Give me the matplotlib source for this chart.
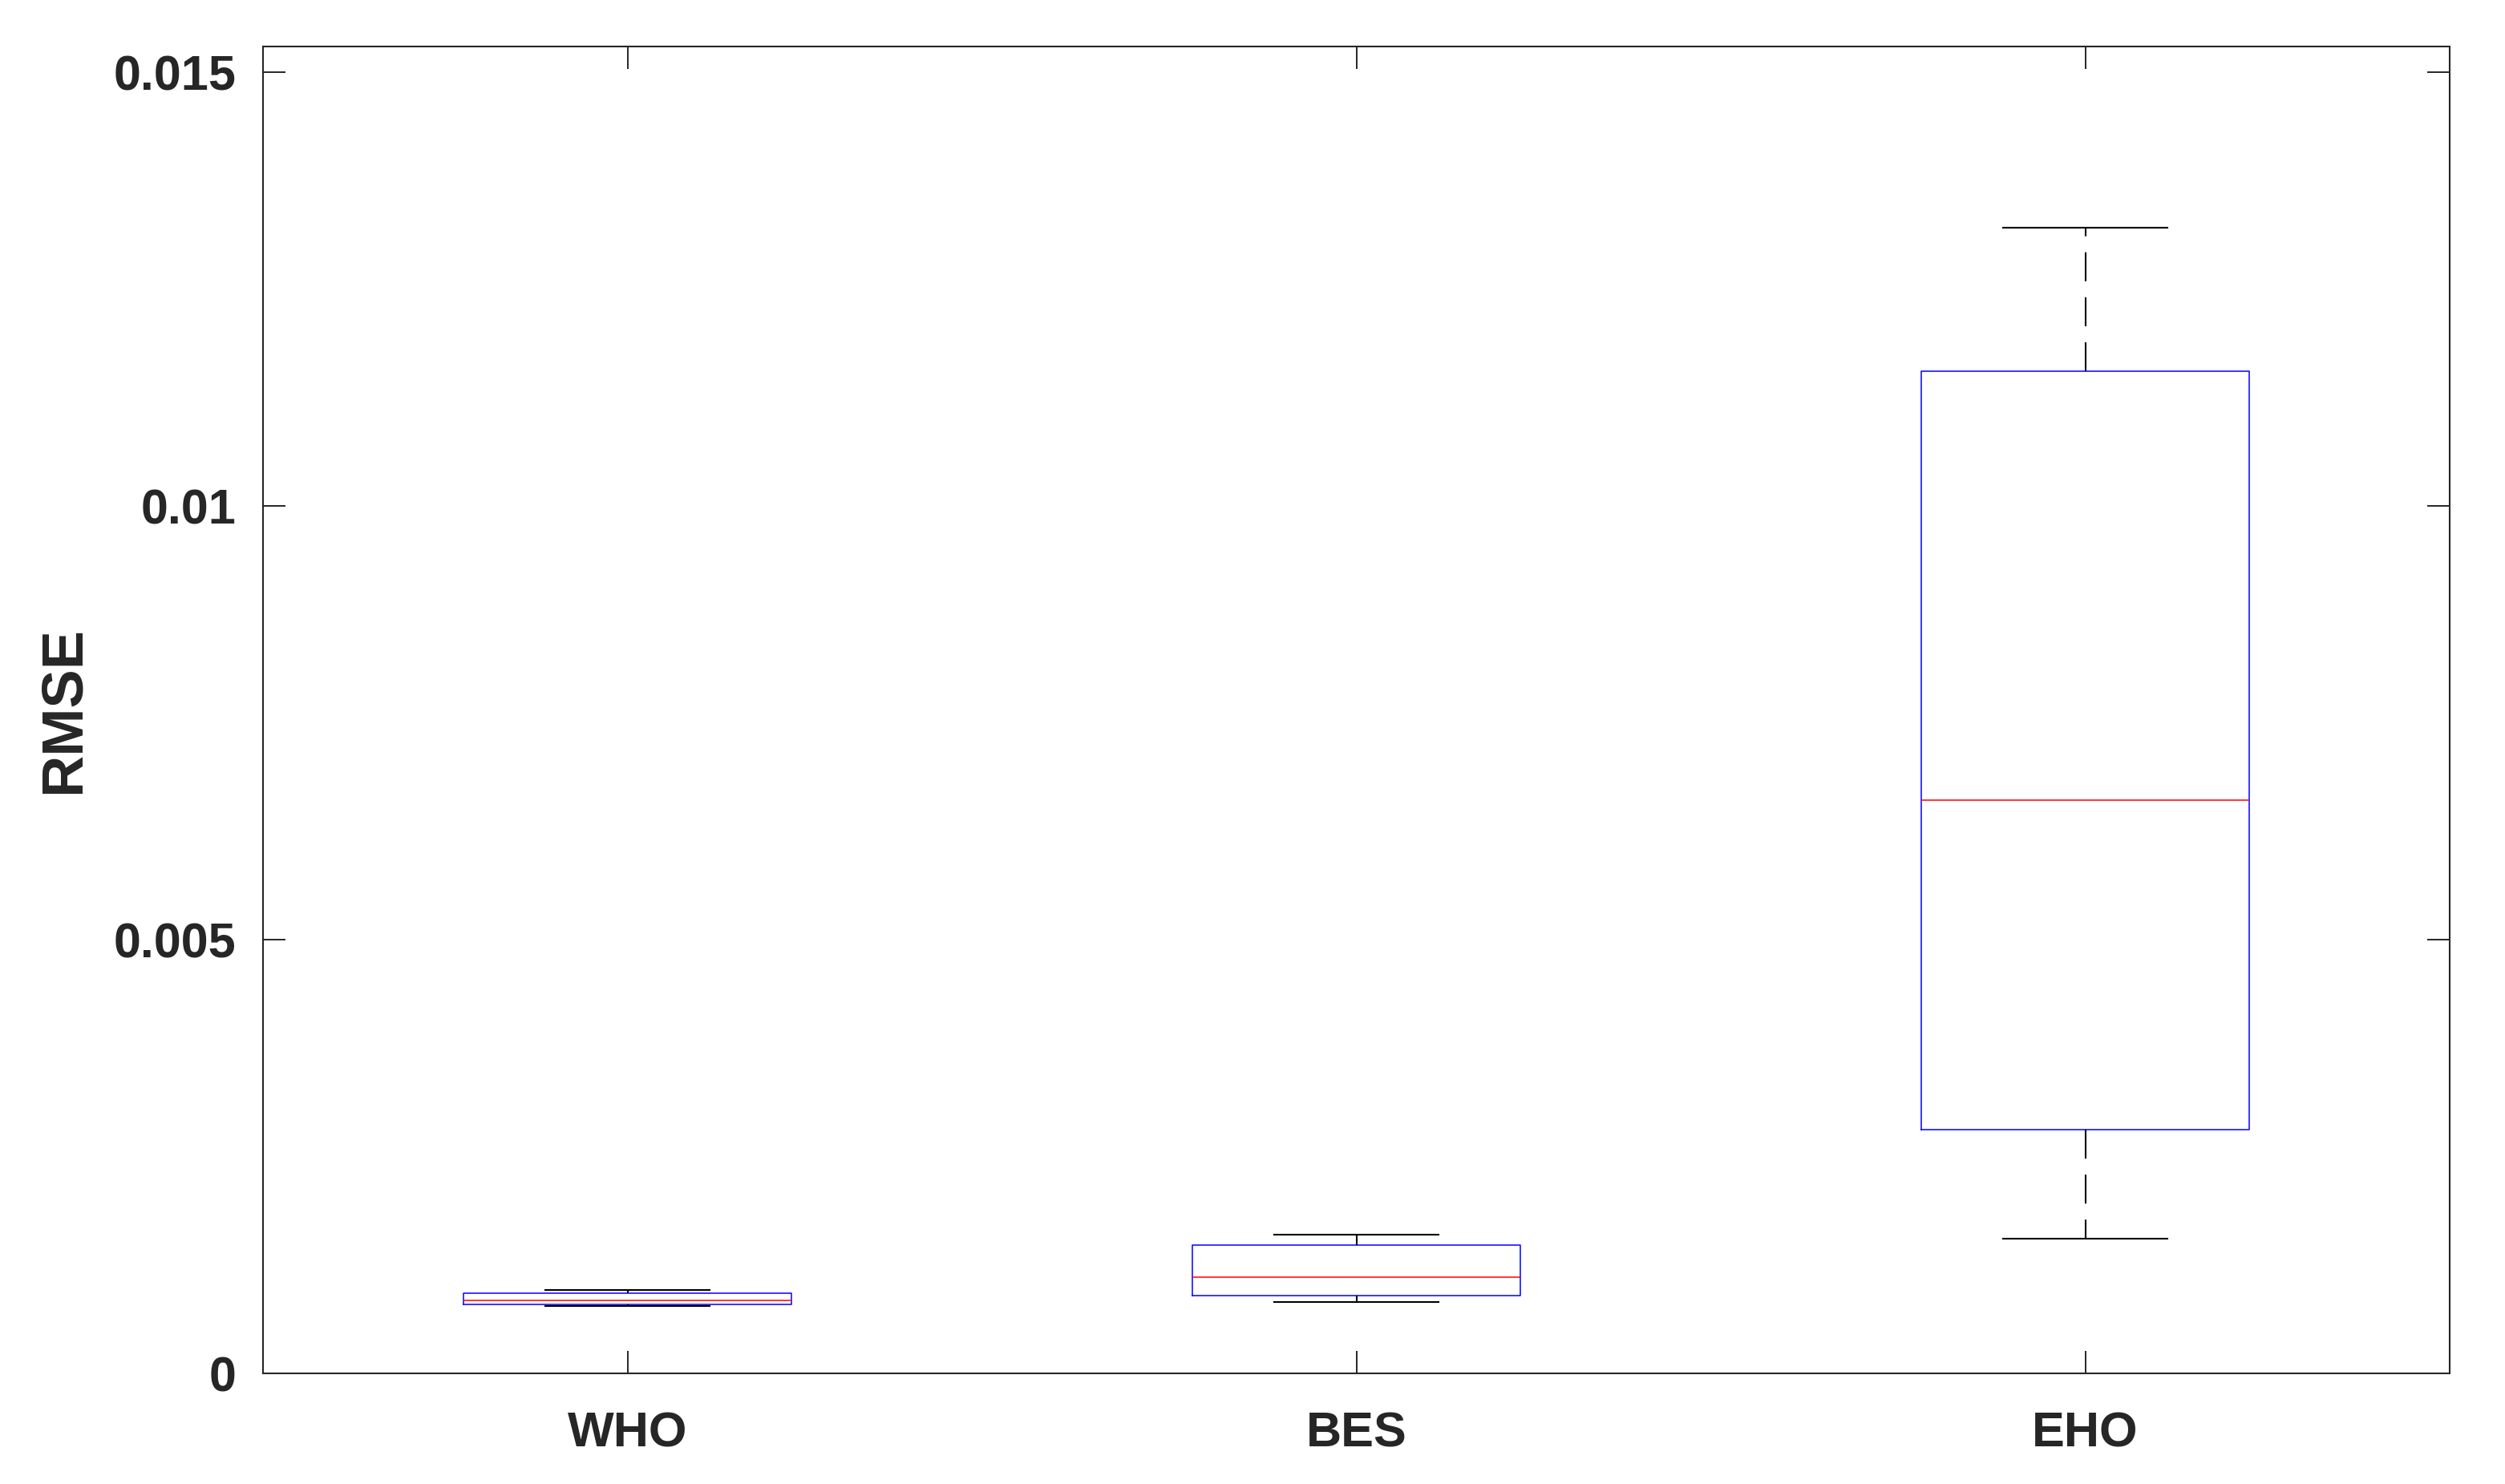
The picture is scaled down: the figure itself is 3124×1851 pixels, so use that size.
import matplotlib
matplotlib.use('Agg')
from matplotlib import pyplot as plt

algos = ['WHO', 'BES', 'EHO']
whislo = [0.00078, 0.000826, 0.001557]
q1 = [0.000795, 0.0009, 0.002814]
med = [0.000842, 0.001113, 0.00661]
q3 = [0.000928, 0.001483, 0.011554]
whishi = [0.000965, 0.0016, 0.013209]
yticks = [0, 0.005, 0.01, 0.015]
ytick_labels = ['0', '0.005', '0.01', '0.015']

plt.rcParams['font.family'] = ['Liberation Sans', 'DejaVu Sans']
plt.rcParams['lines.scale_dashes'] = False

stats = []
for i, name in enumerate(algos):
    stats.append({'label': name, 'whislo': whislo[i], 'q1': q1[i], 'med': med[i],
                  'q3': q3[i], 'whishi': whishi[i], 'fliers': []})

fig = plt.figure(figsize=(15.62, 9.255), dpi=200)
ax = fig.add_axes([328 / 3124, 1 - 1713 / 1851, (3055 - 328) / 3124, (1713 - 58) / 1851])

ax.bxp(stats, positions=[1, 2, 3], widths=0.45, showfliers=False,
       boxprops=dict(color='blue', linewidth=0.55),
       medianprops=dict(color='red', linewidth=0.55),
       whiskerprops=dict(color='black', linewidth=0.75, linestyle=(0, (13, 7.2))),
       capprops=dict(color='black', linewidth=0.75),
       capwidths=0.225)

ax.set_xlim(0.5, 3.5)
ax.set_ylim(0, 0.0153)
ax.set_yticks(yticks)
ax.set_yticklabels(ytick_labels)
ax.set_xticks([1, 2, 3])
ax.set_xticklabels(algos)
ax.tick_params(direction='in', length=10, width=0.7, top=True, right=True,
               labelsize=22, colors='#262626', pad=12)
ax.tick_params(axis='x', pad=17)
for lab in ax.get_xticklabels() + ax.get_yticklabels():
    lab.set_fontweight('bold')
for s in ax.spines.values():
    s.set_linewidth(0.75)
    s.set_color('#262626')
ax.set_ylabel('RMSE', fontsize=26, fontweight='bold', color='#262626')
ax.yaxis.set_label_coords(-0.0785, 0.5)

plt.savefig('out.png', dpi=200)
